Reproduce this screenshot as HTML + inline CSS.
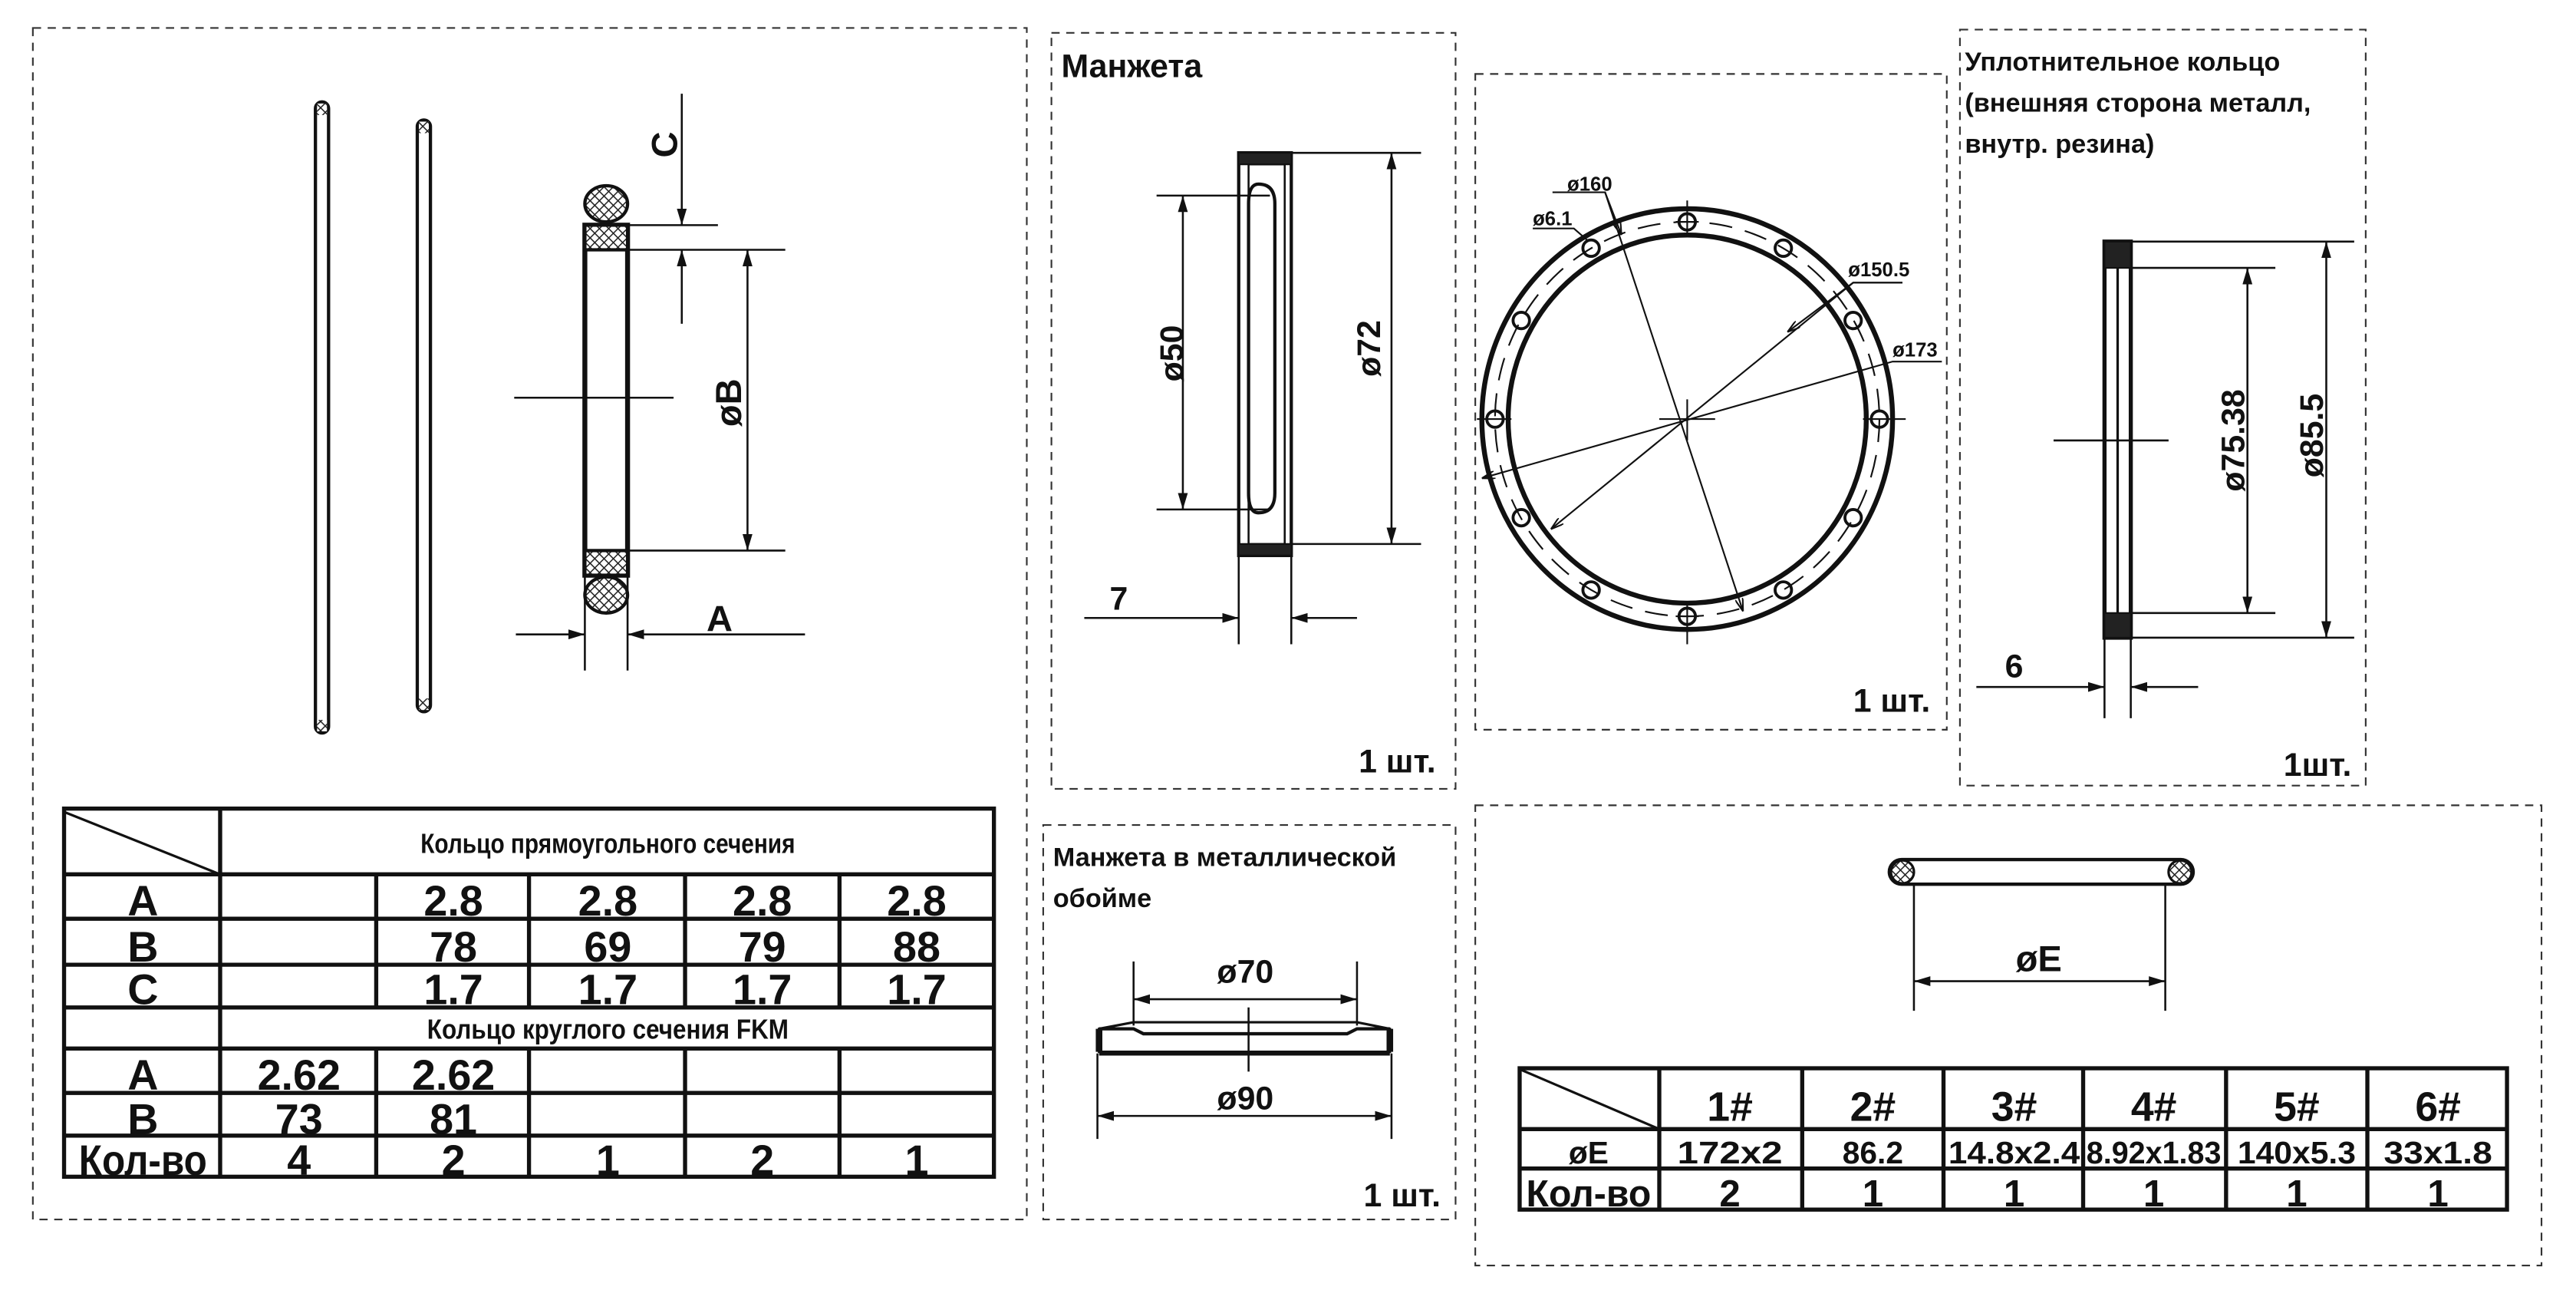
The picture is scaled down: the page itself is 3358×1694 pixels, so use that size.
<!DOCTYPE html>
<html><head><meta charset="utf-8"><style>
html,body{margin:0;padding:0;background:#fff;}
svg{display:block}
text{font-family:"Liberation Sans Narrow","Liberation Sans",sans-serif;font-weight:bold;fill:#111}
.t{font-family:"Liberation Sans",sans-serif}
</style></head><body>
<svg width="3358" height="1694" viewBox="0 0 1568 791" preserveAspectRatio="none" xmlns="http://www.w3.org/2000/svg">
<defs>
<marker id="a" viewBox="0 0 10 6" refX="10" refY="3" markerWidth="10" markerHeight="6" markerUnits="userSpaceOnUse" orient="auto-start-reverse"><path d="M0,0 L10,3 L0,6 z" fill="#111"/></marker>
<marker id="s" viewBox="0 0 10 6" refX="10" refY="3" markerWidth="8" markerHeight="5" markerUnits="userSpaceOnUse" orient="auto-start-reverse"><path d="M0,0 L10,3 L0,6" fill="none" stroke="#111" stroke-width="1.2"/></marker>
<pattern id="h" width="4" height="4" patternUnits="userSpaceOnUse" patternTransform="rotate(45)"><rect width="4" height="4" fill="#fff"/><path d="M0,0H4M0,0V4" stroke="#222" stroke-width="1.4"/></pattern>
</defs>
<g fill="none" stroke="#333" stroke-width="1" stroke-dasharray="5,4">
<rect x="20" y="17" width="605" height="725"/>
<rect x="640" y="20" width="246" height="460"/>
<rect x="898" y="45" width="287" height="399"/>
<rect x="1193" y="18" width="247" height="460"/>
<rect x="635" y="502" width="251" height="240"/>
<rect x="898" y="490" width="649" height="280"/>
</g>

<g stroke="#111" fill="#fff">
<rect x="192" y="62" width="8" height="384" rx="4" stroke-width="2"/>
<rect x="254" y="73" width="8" height="360" rx="4" stroke-width="2"/>
</g>
<g fill="url(#h)"><rect x="193" y="63" width="6" height="7"/><rect x="193" y="438" width="6" height="7"/><rect x="255" y="74" width="6" height="7"/><rect x="255" y="425" width="6" height="7"/></g>
<rect x="356" y="137" width="26" height="213" fill="#fff" stroke="#111" stroke-width="3"/>
<rect x="356" y="137" width="26" height="15" fill="url(#h)" stroke="#111" stroke-width="2"/>
<rect x="356" y="335" width="26" height="15" fill="url(#h)" stroke="#111" stroke-width="2"/>
<ellipse cx="369" cy="124" rx="13" ry="11" fill="url(#h)" stroke="#111" stroke-width="2"/>
<ellipse cx="369" cy="362" rx="13" ry="11" fill="url(#h)" stroke="#111" stroke-width="2"/>
<g stroke="#111" stroke-width="1.2" fill="none">
<path d="M382 137H437M382 152H478M382 335H478M313 242H410M356 350V408M382 350V408"/>
<path d="M415 57V137" marker-end="url(#a)"/><path d="M415 197V152" marker-end="url(#a)"/>
<path d="M455 152V335" marker-start="url(#a)" marker-end="url(#a)"/>
<path d="M314 386H356" marker-end="url(#a)"/><path d="M490 386H382" marker-end="url(#a)"/>
</g>
<text font-size="22" class="t" transform="translate(412,88) rotate(-90)" text-anchor="middle">C</text>
<text font-size="22" class="t" transform="translate(451,245) rotate(-90)" text-anchor="middle">øB</text>
<text x="438" y="384" font-size="22" class="t" text-anchor="middle">A</text>

<g stroke="#111" stroke-width="2.5" fill="none">
<rect x="39" y="492" width="566" height="224"/>
<path d="M39 532H605M39 559H605M39 587H605M39 613H605M39 638H605M39 665H605M39 691H605"/>
<path d="M134 492V716M229 532V613M322 532V613M417 532V613M511 532V613M229 638V716M322 638V716M417 638V716M511 638V716"/>
<path d="M39 494L134 532" stroke-width="1.5"/>
</g>
<g font-size="17" text-anchor="middle"><text x="370" y="519" textLength="228" lengthAdjust="spacingAndGlyphs">Кольцо прямоугольного сечения</text><text x="370" y="632" textLength="220" lengthAdjust="spacingAndGlyphs">Кольцо круглого сечения FKM</text></g>
<g font-size="26" text-anchor="middle">
<text x="87" y="557">A</text><text x="87" y="585">B</text><text x="87" y="611">C</text>
<text x="87" y="663">A</text><text x="87" y="690">B</text><text x="87" y="715" textLength="78" lengthAdjust="spacingAndGlyphs">Кол-во</text>
<text x="276" y="557">2.8</text><text x="370" y="557">2.8</text><text x="464" y="557">2.8</text><text x="558" y="557">2.8</text>
<text x="276" y="585">78</text><text x="370" y="585">69</text><text x="464" y="585">79</text><text x="558" y="585">88</text>
<text x="276" y="611">1.7</text><text x="370" y="611">1.7</text><text x="464" y="611">1.7</text><text x="558" y="611">1.7</text>
<text x="182" y="663">2.62</text><text x="276" y="663">2.62</text>
<text x="182" y="690">73</text><text x="276" y="690">81</text>
<text x="182" y="715">4</text><text x="276" y="715">2</text><text x="370" y="715">1</text><text x="464" y="715">2</text><text x="558" y="715">1</text>
</g>

<text x="646" y="47" font-size="20" class="t">Манжета</text>
<g stroke="#111" fill="none">
<path d="M754 93H786V338H754Z" stroke-width="2"/>
<path d="M760 100H782V331H760Z" stroke-width="1.2"/>
<path d="M766 112Q776 112 776 124V300Q776 312 766 312Q760 312 760 300V124Q760 112 766 112" stroke-width="2"/>
<path d="M754 93H786V100H754Z" fill="#222" stroke-width="1"/>
<path d="M754 331H786V338H754Z" fill="#222" stroke-width="1"/>
<g stroke-width="1.2">
<path d="M786 93H865M786 331H865M704 119H773M704 310H773M754 338V392M786 338V392"/>
<path d="M847 93V331" marker-start="url(#a)" marker-end="url(#a)"/>
<path d="M720 119V310" marker-start="url(#a)" marker-end="url(#a)"/>
<path d="M660 376H754" marker-end="url(#a)"/><path d="M826 376H786" marker-end="url(#a)"/>
</g></g>
<text font-size="20" class="t" transform="translate(840,212) rotate(-90)" text-anchor="middle">ø72</text>
<text font-size="20" class="t" transform="translate(720,215) rotate(-90)" text-anchor="middle">ø50</text>
<text x="681" y="371" font-size="20" class="t" text-anchor="middle">7</text>
<text x="827" y="470" font-size="20" class="t">1 шт.</text>

<g stroke="#111" fill="none">
<ellipse cx="1027" cy="255" rx="125" ry="128" stroke-width="3"/>
<ellipse cx="1027" cy="255" rx="109" ry="112" stroke-width="3"/>
<ellipse cx="1027" cy="255" rx="117" ry="120" stroke-width="1" stroke-dasharray="14,8"/>
<g stroke-width="1.8">
<circle cx="1027" cy="135" r="5"/><circle cx="1085.5" cy="151" r="5"/><circle cx="1128" cy="195" r="5"/><circle cx="1144" cy="255" r="5"/>
<circle cx="1128" cy="315" r="5"/><circle cx="1085.5" cy="359" r="5"/><circle cx="1027" cy="375" r="5"/><circle cx="968.5" cy="359" r="5"/>
<circle cx="926" cy="315" r="5"/><circle cx="910" cy="255" r="5"/><circle cx="926" cy="195" r="5"/><circle cx="968.5" cy="151" r="5"/>
</g>
<g stroke-width="1">
<path d="M1027 122V144M1020 135H1034M1027 366V392M1020 375H1034M899 255H920M903 248V262M1134 255H1160M1010 255H1044M1027 243V268"/>
<path d="M945 117H977L1061 372" marker-end="url(#s)"/>
<path d="M977 117L987 143" marker-end="url(#s)"/>
<path d="M933 139H958L966 146"/>
<path d="M1158 172H1128L944 322" marker-end="url(#s)"/>
<path d="M1158 172H1128L1088 202" marker-end="url(#s)"/>
<path d="M1182 220H1152L902 291" marker-end="url(#s)"/>
</g></g>
<g font-size="12" class="t"><text x="954" y="116">ø160</text><text x="933" y="137">ø6.1</text><text x="1125" y="168">ø150.5</text><text x="1152" y="217">ø173</text></g>
<text x="1128" y="433" font-size="20" class="t">1 шт.</text>

<g font-size="16" class="t"><text x="1196" y="43">Уплотнительное кольцо</text><text x="1196" y="68">(внешняя сторона металл,</text><text x="1196" y="93">внутр. резина)</text></g>
<g stroke="#111" fill="none">
<rect x="1281" y="147" width="16" height="241" stroke-width="2.5"/>
<rect x="1281" y="147" width="16" height="16" fill="#222"/>
<rect x="1281" y="373" width="16" height="15" fill="#222"/>
<path d="M1289 163V373" stroke-width="1.5"/>
<g stroke-width="1.2">
<path d="M1297 147H1433M1297 163H1385M1297 373H1385M1297 388H1433M1250 268H1320M1281 388V437M1297 388V437"/>
<path d="M1368 163V373" marker-start="url(#a)" marker-end="url(#a)"/>
<path d="M1416 147V388" marker-start="url(#a)" marker-end="url(#a)"/>
<path d="M1203 418H1281" marker-end="url(#a)"/><path d="M1338 418H1297" marker-end="url(#a)"/>
</g></g>
<text font-size="20" class="t" transform="translate(1366,268) rotate(-90)" text-anchor="middle">ø75.38</text>
<text font-size="20" class="t" transform="translate(1414,265) rotate(-90)" text-anchor="middle">ø85.5</text>
<text x="1226" y="412" font-size="20" class="t" text-anchor="middle">6</text>
<text x="1390" y="472" font-size="20" class="t">1шт.</text>

<g font-size="16" class="t"><text x="641" y="527">Манжета в металлической</text><text x="641" y="552">обойме</text></g>
<g stroke="#111" fill="none">
<path d="M669 626L690 622H826L846 626V640H669Z" stroke-width="1.5" fill="#fff"/>
<path d="M669 626H690L696 629H820L826 626H846" stroke-width="2"/>
<path d="M669 626V640M846 626V640" stroke-width="4"/>
<path d="M669 641H846" stroke-width="2.5"/>
<g stroke-width="1.2">
<path d="M690 585V624M826 585V624M668 641V693M847 641V693M760 613V652"/>
<path d="M690 608H826" marker-start="url(#a)" marker-end="url(#a)"/>
<path d="M668 679H847" marker-start="url(#a)" marker-end="url(#a)"/>
</g></g>
<text x="758" y="598" font-size="20" class="t" text-anchor="middle">ø70</text>
<text x="758" y="675" font-size="20" class="t" text-anchor="middle">ø90</text>
<text x="830" y="734" font-size="20" class="t">1 шт.</text>

<rect x="1150" y="523" width="185" height="15" rx="7.5" fill="#fff" stroke="#111" stroke-width="2"/>
<ellipse cx="1158" cy="530.5" rx="7" ry="7" fill="url(#h)" stroke="#111" stroke-width="1.5"/>
<ellipse cx="1327" cy="530.5" rx="7" ry="7" fill="url(#h)" stroke="#111" stroke-width="1.5"/>
<g stroke="#111" stroke-width="1.2" fill="none">
<path d="M1165 538V615M1318 538V615"/>
<path d="M1165 597H1318" marker-start="url(#a)" marker-end="url(#a)"/>
</g>
<text x="1241" y="591" font-size="22" class="t" text-anchor="middle">øE</text>
<g stroke="#111" stroke-width="2.5" fill="none">
<rect x="925" y="650" width="601" height="86"/>
<path d="M925 687H1526M925 711H1526M1010 650V736M1097 650V736M1183 650V736M1268 650V736M1355 650V736M1441 650V736"/>
<path d="M926 651L1010 687" stroke-width="1.5"/>
</g>
<g text-anchor="middle">
<g font-size="25"><text x="1053" y="682">1#</text><text x="1140" y="682">2#</text><text x="1226" y="682">3#</text><text x="1311" y="682">4#</text><text x="1398" y="682">5#</text><text x="1484" y="682">6#</text></g>
<g font-size="19"><text x="967" y="708">øE</text><text x="1053" y="708" textLength="64" lengthAdjust="spacingAndGlyphs">172x2</text><text x="1140" y="708">86.2</text><text x="1226" y="708" textLength="80" lengthAdjust="spacingAndGlyphs">14.8x2.4</text><text x="1311" y="708" textLength="82" lengthAdjust="spacingAndGlyphs">8.92x1.83</text><text x="1398" y="708" textLength="72" lengthAdjust="spacingAndGlyphs">140x5.3</text><text x="1484" y="708" textLength="66" lengthAdjust="spacingAndGlyphs">33x1.8</text></g>
<g font-size="23"><text x="967" y="734" textLength="76" lengthAdjust="spacingAndGlyphs">Кол-во</text><text x="1053" y="734">2</text><text x="1140" y="734">1</text><text x="1226" y="734">1</text><text x="1311" y="734">1</text><text x="1398" y="734">1</text><text x="1484" y="734">1</text></g>
</g>
</svg>
</body></html>
